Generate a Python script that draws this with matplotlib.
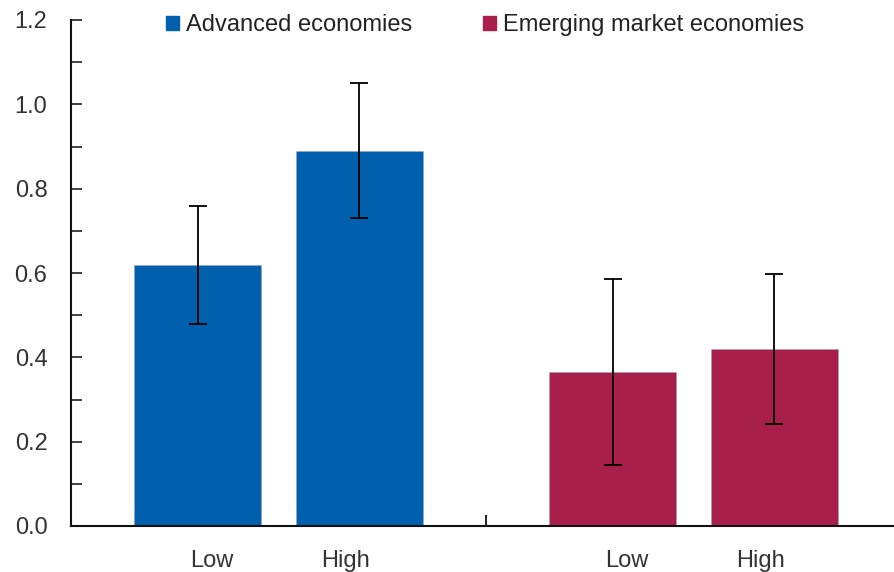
import matplotlib
matplotlib.use("Agg")
import matplotlib.pyplot as plt
from matplotlib.patches import Patch
import numpy as np

groups = ["Advanced economies", "Emerging market economies"]
levels = ["Low", "High"]
values = [[0.62, 0.89], [0.365, 0.42]]
errors = [[0.14, 0.16], [0.22, 0.177]]
colors = ["#0060AE", "#A91F4B"]

plt.rcParams['font.family'] = ['Liberation Sans', 'DejaVu Sans']

fig = plt.figure(figsize=(8.94, 5.72), dpi=100)
# axis runs a little past the right edge of the figure
ax = fig.add_axes([71 / 894, 46 / 572, 830 / 894, 506 / 572])

bar_w = 0.306
bar_off = 0.194
lab_off = 0.162

lab_pos = []
lab_txt = []
for g, name in enumerate(groups):
    centre = g + 0.5
    xs = [centre - bar_off, centre + bar_off]
    ax.bar(xs, values[g], width=bar_w, color=colors[g], edgecolor="#9aa6b8",
           linewidth=0.4, label=name)
    ax.errorbar(xs, values[g], yerr=errors[g], fmt="none", ecolor="black",
                elinewidth=1.3, capsize=6.5, capthick=1.3)
    lab_pos += [centre - lab_off, centre + lab_off]
    lab_txt += levels

ax.set_xlim(0, 2)
ax.set_ylim(0, 1.2)
ax.set_yticks(np.arange(0, 1.21, 0.2))
ax.set_yticks(np.arange(0, 1.21, 0.1), minor=True)
ax.set_yticklabels([f"{v:.1f}" for v in np.arange(0, 1.21, 0.2)])
ax.tick_params(axis="y", which="both", direction="in", length=8, width=1.2,
               labelsize=17, pad=17, colors="#222222")
ax.tick_params(axis="y", labelcolor="#333333")

ax.set_xticks(lab_pos)
ax.set_xticklabels(lab_txt)
ax.set_xticks([1.0], minor=True)
ax.tick_params(axis="x", which="major", length=0, labelsize=17, pad=17,
               labelcolor="#333333")
ax.tick_params(axis="x", which="minor", direction="in", length=8, width=1.2)

for side in ["top", "right"]:
    ax.spines[side].set_visible(False)
for side in ["left", "bottom"]:
    ax.spines[side].set_linewidth(1.5)
    ax.spines[side].set_color("#111111")

handles = [Patch(facecolor=c, edgecolor=c) for c in colors]
fig.legend(handles, groups, loc="center", bbox_to_anchor=(485 / 894, 1 - 25 / 572),
           ncol=2, frameon=False, fontsize=17, handlelength=0.55, handleheight=0.55,
           handletextpad=0.3, columnspacing=3.0, labelcolor="#222222")

fig.savefig("out.png", dpi=100)
